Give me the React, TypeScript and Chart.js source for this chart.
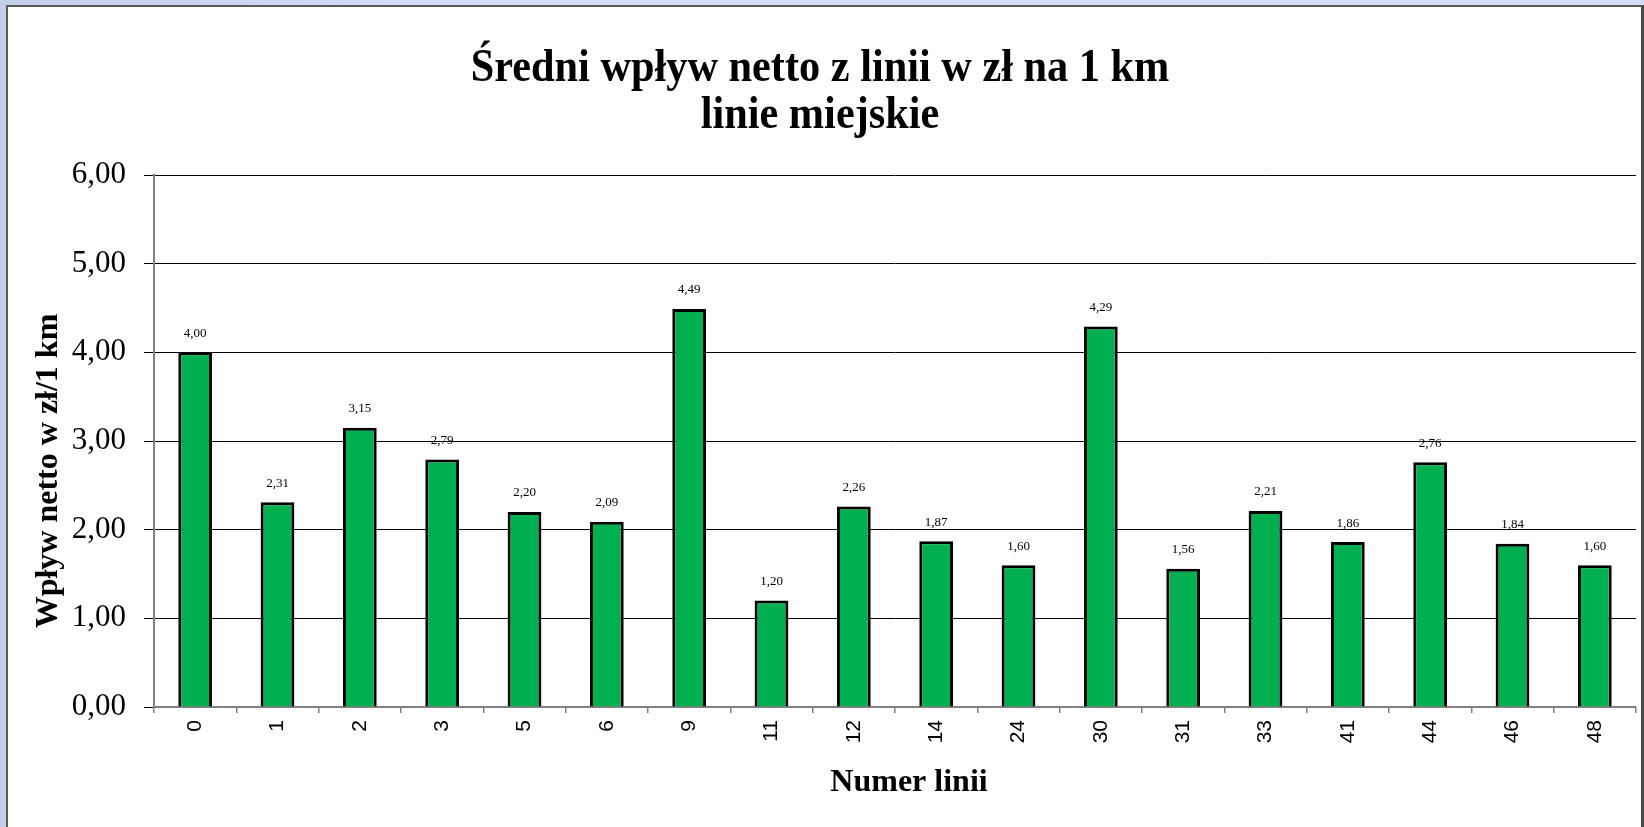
import React, { useEffect, useRef } from "react";
import { Chart, registerables } from "chart.js";

Chart.register(...registerables);

const lines: string[] = ["0", "1", "2", "3", "5", "6", "9", "11", "12", "14", "24", "30", "31", "33", "41", "44", "46", "48"];
const values: number[] = [4.0, 2.31, 3.15, 2.79, 2.2, 2.09, 4.49, 1.2, 2.26, 1.87, 1.6, 4.29, 1.56, 2.21, 1.86, 2.76, 1.84, 1.6];
const titleLines: string[] = ["Średni wpływ netto z linii w zł na 1 km", "linie miejskie"];
const yTitle = "Wpływ netto w zł/1 km";
const xTitle = "Numer linii";

const fmt = (v: number) => v.toFixed(2).replace(".", ",");

const SERIF = "'Liberation Serif', 'Times New Roman', serif";
const SANS = "'Liberation Sans', Arial, sans-serif";

const textPlugin = {
  id: "textPlugin",
  afterDatasetsDraw(chart: any) {
    const ctx = chart.ctx as CanvasRenderingContext2D;
    const meta = chart.getDatasetMeta(0);
    ctx.save();
    ctx.fillStyle = "#000";
    ctx.font = `13px ${SERIF}`;
    ctx.textAlign = "center";
    ctx.textBaseline = "middle";
    meta.data.forEach((bar: any, i: number) => {
      ctx.fillText(fmt(values[i]), bar.x, bar.y - 19);
    });
    ctx.restore();
  },
  afterDraw(chart: any) {
    const ctx = chart.ctx as CanvasRenderingContext2D;
    const area = chart.chartArea;
    ctx.save();
    ctx.fillStyle = "#000";
    ctx.textAlign = "center";
    ctx.textBaseline = "alphabetic";
    ctx.font = `bold 46px ${SERIF}`;
    const cx = 820;
    titleLines.forEach((t, i) => {
      ctx.save();
      ctx.translate(cx, 81 + i * 47);
      ctx.scale(0.92, 1);
      ctx.fillText(t, 0, 0);
      ctx.restore();
    });
    ctx.font = `bold 32px ${SERIF}`;
    ctx.fillText(xTitle, (area.left + area.right) / 2 + 14, 791);
    ctx.save();
    ctx.translate(57, (area.top + area.bottom) / 2 + 30);
    ctx.rotate(-Math.PI / 2);
    ctx.fillText(yTitle, 0, 0);
    ctx.restore();
    ctx.restore();
  },
};

export default function App() {
  const ref = useRef<HTMLCanvasElement | null>(null);
  useEffect(() => {
    document.body.style.overflow = "hidden";
    const canvas = ref.current!;
    const chart = new Chart(canvas, {
      type: "bar",
      data: {
        labels: lines,
        datasets: [
          {
            data: values,
            backgroundColor: "#00b050",
            borderColor: "#000000",
            borderWidth: 3,
            categoryPercentage: 1,
            barPercentage: 0.41,
          },
        ],
      },
      options: {
        animation: false,
        responsive: false,
        maintainAspectRatio: false,
        layout: { padding: { top: 175, left: 0, right: 8, bottom: 0 } },
        plugins: { legend: { display: false }, tooltip: { enabled: false }, title: { display: false } },
        scales: {
          x: {
            afterFit: (s: any) => {
              s.height = 120;
            },
            grid: { drawOnChartArea: false, tickLength: 6, color: "#808080", lineWidth: 1.5 },
            border: { color: "#808080", width: 2 },
            ticks: {
              autoSkip: false,
              minRotation: 90,
              maxRotation: 90,
              padding: 7,
              color: "#000",
              font: { family: SANS, size: 21 },
            },
          },
          y: {
            min: 0,
            max: 6,
            afterFit: (s: any) => {
              s.width = 154;
            },
            grid: { color: "#000", lineWidth: 1, tickLength: 10 },
            border: { color: "#808080", width: 2 },
            ticks: {
              stepSize: 1,
              padding: 18,
              color: "#000",
              font: { family: SERIF, size: 31 },
              callback: (v: any) => fmt(Number(v)),
            },
          },
        },
      },
      plugins: [textPlugin],
    });
    return () => chart.destroy();
  }, []);

  return (
    <div
      style={{
        position: "fixed",
        left: 0,
        top: 0,
        width: 1644,
        height: 827,
        background: "linear-gradient(90deg, #c4cfe8 0%, #d5defb 30%, #d5defb 100%)",
        overflow: "hidden",
      }}
    >
      <div
        style={{
          position: "absolute",
          left: 6,
          top: 5,
          width: 1633,
          height: 830,
          background: "#fff",
          borderLeft: "2px solid #5a5a5a",
          borderTop: "2px solid #5a5a5a",
          borderRight: "3px solid #4a4a4a",
        }}
      />
      <canvas
        ref={ref}
        width={1644}
        height={827}
        style={{ position: "absolute", left: 0, top: 0, width: 1644, height: 827 }}
      />
    </div>
  );
}
